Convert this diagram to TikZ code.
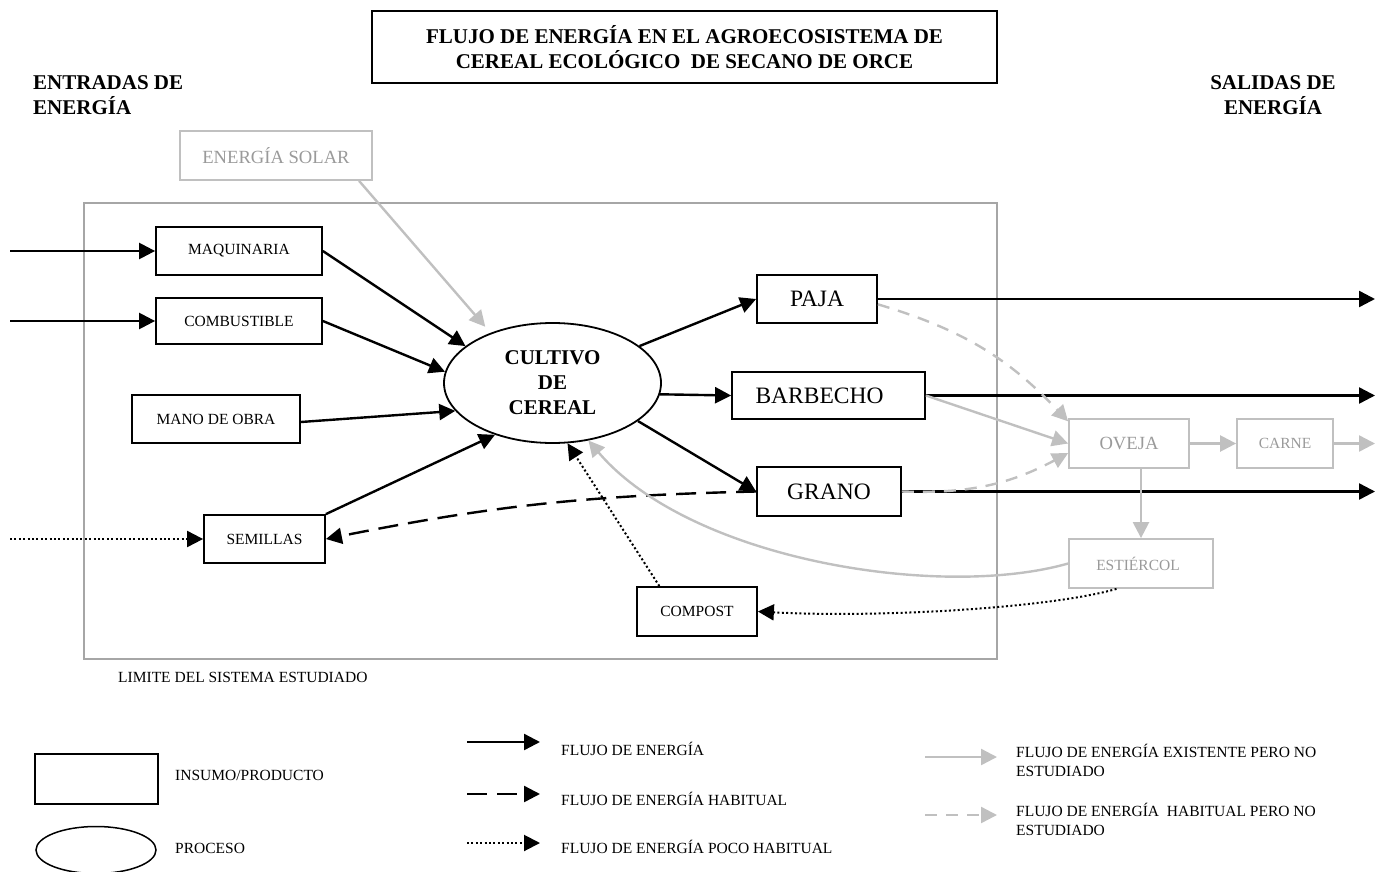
\documentclass[tikz,border=0pt]{standalone}
\usepackage{fontspec}
\setmainfont{Liberation Serif}
\usetikzlibrary{arrows.meta,shapes.geometric,calc}
\definecolor{lgray}{HTML}{C0C0C0}
\definecolor{tgray}{HTML}{9A9A9A}
\definecolor{bgray}{HTML}{A6A6A6}
\newcommand{\bigbf}{\fontsize{21}{25}\selectfont\bfseries}
\newcommand{\outtxt}{\fontsize{23.5}{28}\selectfont}
\newcommand{\midtxt}{\fontsize{18.6}{22}\selectfont}
\newcommand{\smalltxt}{\fontsize{15.5}{19}\selectfont}
\begin{document}
\begin{tikzpicture}[x=1pt,y=-1pt,
  box/.style={draw=black, line width=1.8pt, inner sep=0pt, fill=white},
  gbox/.style={draw=lgray, line width=1.8pt, inner sep=0pt, fill=white, text=tgray},
  limitbox/.style={draw=bgray, line width=1.5pt, inner sep=0pt},
  flow/.style={line width=2.4pt, -{Triangle[length=16pt,width=16pt]}},
  habit/.style={flow, dash pattern=on 20pt off 10pt},
  rare/.style={flow, line width=2pt, dash pattern=on 2pt off 2.4pt},
  gflow/.style={flow, draw=lgray, color=lgray},
  ghabit/.style={gflow, dash pattern=on 12pt off 9pt},
  label/.style={anchor=west, inner sep=0pt, align=left, font=\smalltxt}
]
\useasboundingbox (0,0) rectangle (1375,872);

% headings
\node[box, minimum width=625pt, minimum height=72pt, align=center, font=\bigbf]
  (title) at (684.5,47) {FLUJO DE ENERGÍA EN EL AGROECOSISTEMA DE\\CEREAL ECOLÓGICO\ \ DE SECANO DE ORCE};
\node[anchor=west, inner sep=0pt, align=left, font=\bigbf] (inhead) at (33,95) {ENTRADAS DE\\ENERGÍA};
\node[inner sep=0pt, align=center, font=\bigbf] (outhead) at (1273,95) {SALIDAS DE\\ENERGÍA};

% system boundary
\node[limitbox, minimum width=913pt, minimum height=456pt] (limit) at (540.5,431) {};
\node[label] (limitlbl) at (118,677) {LIMITE DEL SISTEMA ESTUDIADO};

% inputs
\node[gbox, minimum width=192pt, minimum height=49pt, font=\midtxt] (solar) at (276,155.5) {ENERGÍA SOLAR};
\node[box, minimum width=166pt, minimum height=48pt, font=\smalltxt] (maq) at (239,251) {MAQUINARIA};
\node[box, minimum width=166pt, minimum height=46pt, font=\smalltxt] (comb) at (239,321) {COMBUSTIBLE};
\node[box, minimum width=168pt, minimum height=48pt, font=\smalltxt] (mano) at (216,419) {MANO DE OBRA};
\node[box, minimum width=121pt, minimum height=48pt, font=\smalltxt] (sem) at (264.5,539) {SEMILLAS};
\node[box, minimum width=120pt, minimum height=49pt, font=\smalltxt] (compost) at (697,611.5) {COMPOST};

% process
\node[ellipse, draw, line width=1.8pt, inner sep=0pt, minimum width=217pt, minimum height=120pt,
  align=center, font=\bigbf] (cult) at (552.5,383) {CULTIVO\\DE\\CEREAL};

% outputs
\node[box, minimum width=120pt, minimum height=48pt, font=\outtxt] (paja) at (817,299) {PAJA};
\node[box, minimum width=193pt, minimum height=47pt, font=\outtxt] (barb) at (828.5,395.5) {BARBECHO\hspace*{18pt}};
\node[box, minimum width=144pt, minimum height=49pt, font=\outtxt] (grano) at (829,491.5) {GRANO};
\node[gbox, minimum width=120pt, minimum height=49pt, font=\midtxt] (oveja) at (1129,443.5) {OVEJA};
\node[gbox, minimum width=96pt, minimum height=49pt, font=\smalltxt] (carne) at (1285,443.5) {CARNE};
\node[gbox, minimum width=144pt, minimum height=49pt, font=\smalltxt] (estiercol) at (1141,563.5) {ESTIÉRCOL\hspace*{6pt}};

% free ends
\coordinate (srcMaq) at (10,251);
\coordinate (srcComb) at (10,321);
\coordinate (srcSem) at (10,539);
\coordinate (outPaja) at (1375,299);
\coordinate (outBarb) at (1375,395.5);
\coordinate (outGrano) at (1375,491.5);
\coordinate (outCarne) at (1375,443.5);

% energy entering the crop
\draw[flow] (srcMaq) -- (maq.west);
\draw[flow] (srcComb) -- (comb.west);
\draw[rare] (srcSem) -- (sem.west);
\draw[gflow, shorten >=8pt] (solar.-17.6) -- (cult.141);
\draw[flow] (maq.east) -- (cult.157);
\draw[flow] (comb.east) -- (cult.174);
\draw[flow] ($(mano.east)+(0,3)$) -- (cult.196);
\draw[flow] (sem.north east) -- (cult.222);
\draw[rare] (compost.146.5) -- (cult.-76);

% energy leaving the crop
\draw[flow] (cult.23) -- (paja.west);
\draw[flow] (cult.-6) -- (barb.west);
\draw[flow] (cult.-24) -- (grano.west);
\draw[flow] (paja.east) -- (outPaja);
\draw[flow] (barb.east) -- (outBarb);
\draw[flow] (grano.east) -- (outGrano);
\draw[habit] (grano.west) to[bend right=5] (sem.east);

% livestock loop
\draw[ghabit] (paja.-5) to[bend left=15] (oveja.160);
\draw[gflow] (barb.east) -- (oveja.west);
\draw[ghabit] (grano.east) to[bend right=15] (oveja.189);
\draw[gflow] (oveja.east) -- (carne.west);
\draw[gflow] (carne.east) -- (outCarne);
\draw[gflow] (estiercol.north |- oveja.south) -- (estiercol.north);
\draw[gflow] (estiercol.west) .. controls (940,600) and (690,560) .. (cult.-58);
\draw[rare] (estiercol.226.8) .. controls (1050,608) and (880,618) .. (compost.east);

% legend
\node[box, minimum width=123pt, minimum height=50pt] (legbox) at (96.5,779) {};
\node[label] (legboxlbl) at (175,775) {INSUMO/PRODUCTO};
\node[ellipse, draw, line width=1.5pt, inner sep=0pt, minimum width=120pt, minimum height=47pt] (legell) at (96,850) {};
\node[label] (legelllbl) at (175,848) {PROCESO};

\coordinate (lgA1) at (467,742); \coordinate (lgA2) at (540,742);
\coordinate (lgB1) at (467,794); \coordinate (lgB2) at (540,794);
\coordinate (lgC1) at (467,843); \coordinate (lgC2) at (540,843);
\coordinate (lgD1) at (925,757); \coordinate (lgD2) at (997,757);
\coordinate (lgE1) at (925,815); \coordinate (lgE2) at (997,815);
\draw[flow] (lgA1) -- (lgA2);
\draw[habit] (lgB1) -- (lgB2);
\draw[rare] (lgC1) -- (lgC2);
\draw[gflow] (lgD1) -- (lgD2);
\draw[ghabit] (lgE1) -- (lgE2);
\node[label] (lgAt) at (561,749) {FLUJO DE ENERGÍA};
\node[label] (lgBt) at (561,799) {FLUJO DE ENERGÍA HABITUAL};
\node[label] (lgCt) at (561,847) {FLUJO DE ENERGÍA POCO HABITUAL};
\node[label] (lgDt) at (1016,760) {FLUJO DE ENERGÍA EXISTENTE PERO NO\\ESTUDIADO};
\node[label] (lgEt) at (1016,819) {FLUJO DE ENERGÍA\ \ HABITUAL PERO NO\\ESTUDIADO};
\end{tikzpicture}
\end{document}
